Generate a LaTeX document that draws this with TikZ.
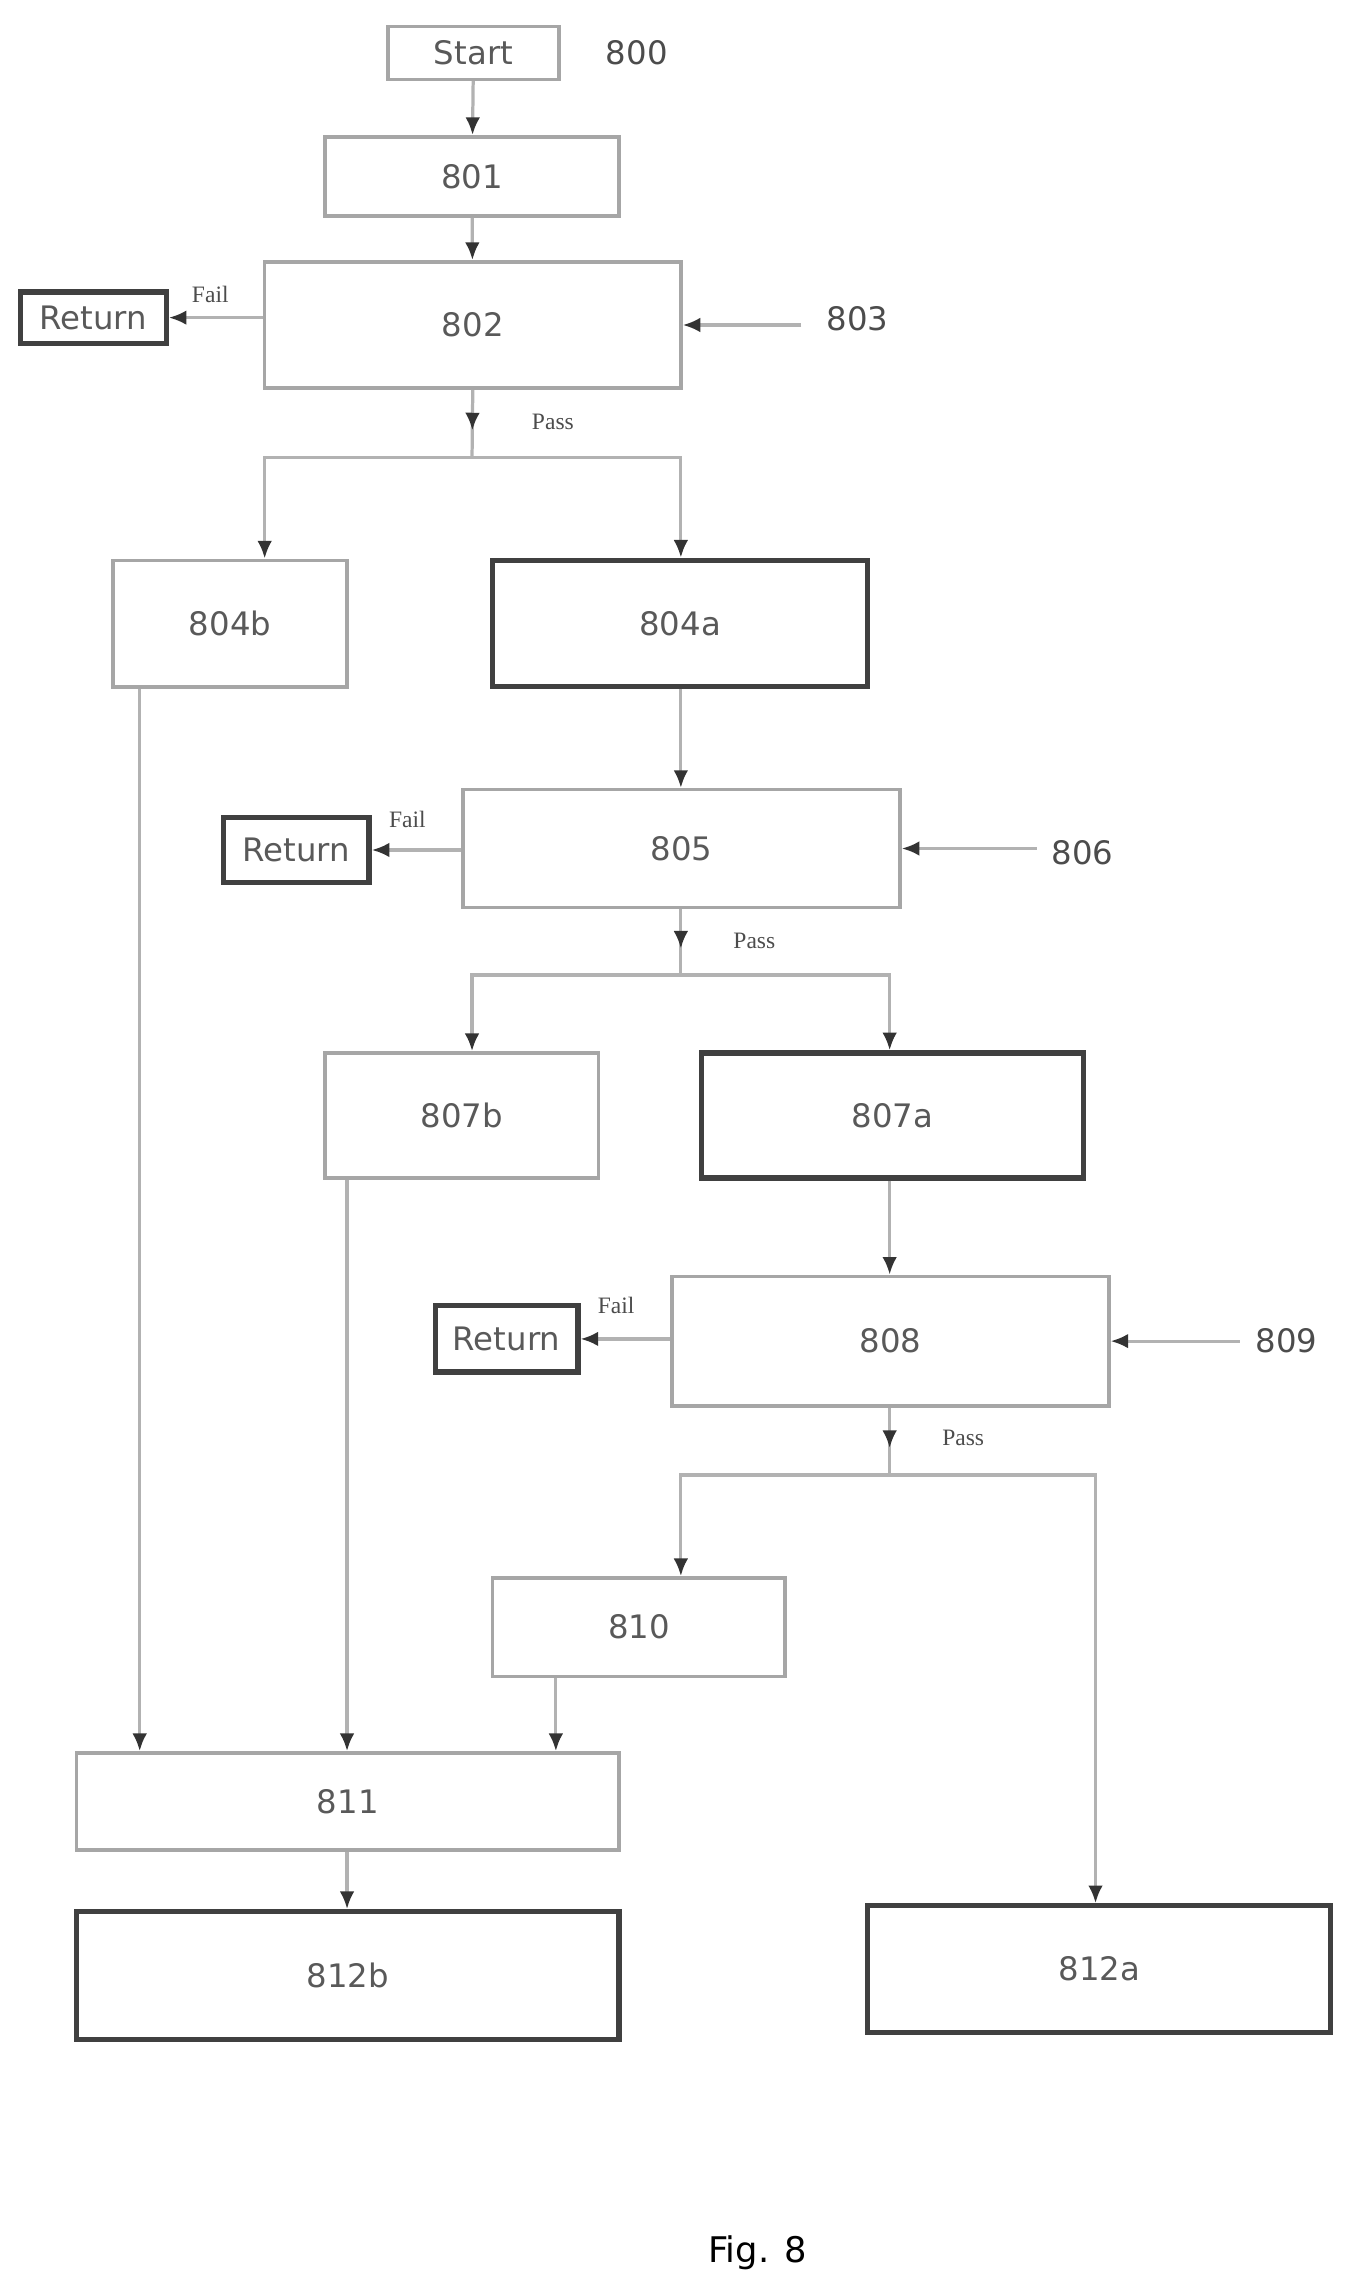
\documentclass[tikz,border=0pt]{standalone}
\usepackage{fontspec}
\setmainfont{DejaVu Sans}
\newfontfamily\serifx{Liberation Serif}
\usetikzlibrary{arrows.meta,decorations.markings}
\begin{document}
\begin{tikzpicture}[x=0.5pt,y=-0.5pt,
 bx/.style={draw=gray!70,line width=1.2pt,text=gray!70!black,font=\fontsize{11}{13}\selectfont,inner sep=0pt},
 dk/.style={bx,draw=gray!50!black,line width=1.8pt},
 ln/.style={draw=gray!60,line width=1.1pt},
 arr/.style={ln,-{Latex[length=6pt,width=5pt,color=black!80]}},
 marr/.style={ln,postaction={decorate},decoration={markings,mark=at position 0.6 with {\arrow{Latex[length=6pt,width=5pt,color=black!80]}}}},
 lab/.style={text=gray!60!black,font=\fontsize{11}{13}\selectfont},
 pf/.style={text=black!70,font=\serifx\fontsize{8}{9}\selectfont}]
\useasboundingbox (0,0) rectangle (915,1560);
\node[bx,minimum width=58pt,minimum height=18pt] (st) at (322,36) {Start};
\node[lab] (l800) at (433,36) {800};
\node[bx,minimum width=100pt,minimum height=27pt] (n801) at (321,120) {801};
\node[bx,minimum width=141.5pt,minimum height=43pt] (n802) at (321.5,221) {802};
\node[dk,minimum width=49.5pt,minimum height=17.5pt] (r1) at (63.5,216) {Return};
\node[lab] (l803) at (583,217) {803};
\node[bx,minimum width=79.5pt,minimum height=43pt] (n804b) at (156.5,424) {804b};
\node[dk,minimum width=127.5pt,minimum height=43pt] (n804a) at (462.5,424) {804a};
\node[bx,minimum width=148.5pt,minimum height=40pt] (n805) at (463.5,577) {805};
\node[dk,minimum width=49.5pt,minimum height=22pt] (r2) at (201.5,578) {Return};
\node[lab] (l806) at (736,580) {806};
\node[bx,minimum width=93pt,minimum height=42.5pt] (n807b) at (314,758.5) {807b};
\node[dk,minimum width=130pt,minimum height=42.5pt] (n807a) at (607,758.5) {807a};
\node[bx,minimum width=148.5pt,minimum height=44pt] (n808) at (605.5,912) {808};
\node[dk,minimum width=48.5pt,minimum height=22.5pt] (r3) at (344.5,910.5) {Return};
\node[lab] (l809) at (875,912) {809};
\node[bx,minimum width=99.5pt,minimum height=33.5pt] (n810) at (434.5,1106.5) {810};
\node[bx,minimum width=184.5pt,minimum height=33pt] (n811) at (236.5,1225) {811};
\node[dk,minimum width=184.5pt,minimum height=43.5pt] (n812b) at (236.5,1343.5) {812b};
\node[dk,minimum width=157.5pt,minimum height=43pt] (n812a) at (747.5,1339) {812a};
\node[font=\fontsize{12}{14}\selectfont] (fig) at (515,1532) {Fig. 8};
\node[pf] (f1) at (143,200) {Fail};
\node[pf] (f2) at (277,557) {Fail};
\node[pf] (f3) at (419,888) {Fail};
\node[pf] (p1) at (376,287) {Pass};
\node[pf] (p2) at (513,640) {Pass};
\node[pf] (p3) at (655,978) {Pass};
\coordinate (a803) at (545,221); \coordinate (a806) at (705,577); \coordinate (a809) at (843,912);
\coordinate (b1) at (321,311); \coordinate (b1l) at (180,311); \coordinate (b1r) at (463,311);
\coordinate (b2) at (463,663); \coordinate (b2l) at (321,663); \coordinate (b2r) at (605,663);
\coordinate (b3) at (605,1003); \coordinate (b3l) at (463,1003); \coordinate (b3r) at (745,1003);
\coordinate (c95) at (95,0); \coordinate (c236) at (236,0); \coordinate (c378) at (378,0);
\draw[arr] (st) -- (n801);
\draw[arr] (n801) -- (n802);
\draw[arr] (r1.east -| n802.west) -- (r1.east);
\draw[arr] (a803) -- (n802.east);
\draw[marr] (n802.south) -- (b1);
\draw[arr] (b1) -- (b1l) -- (b1l |- n804b.north);
\draw[arr] (b1) -- (b1r) -- (b1r |- n804a.north);
\draw[arr] (n804a.south -| b1r) -- (b1r |- n805.north);
\draw[arr] (r2.east -| n805.west) -- (r2.east);
\draw[arr] (a806) -- (n805.east);
\draw[marr] (n805.south -| b2) -- (b2);
\draw[arr] (b2) -- (b2l) -- (b2l |- n807b.north);
\draw[arr] (b2) -- (b2r) -- (b2r |- n807a.north);
\draw[arr] (n807a.south -| b2r) -- (b2r |- n808.north);
\draw[arr] (r3.east -| n808.west) -- (r3.east);
\draw[arr] (a809) -- (n808.east);
\draw[marr] (n808.south -| b3) -- (b3);
\draw[arr] (b3) -- (b3l) -- (b3l |- n810.north);
\draw[arr] (b3) -- (b3r) -- (b3r |- n812a.north);
\draw[arr] (n804b.south -| c95) -- (n811.north -| c95);
\draw[arr] (n807b.south -| c236) -- (n811.north -| c236);
\draw[arr] (n810.south -| c378) -- (n811.north -| c378);
\draw[arr] (n811.south -| c236) -- (n812b.north -| c236);
\end{tikzpicture}
\end{document}
